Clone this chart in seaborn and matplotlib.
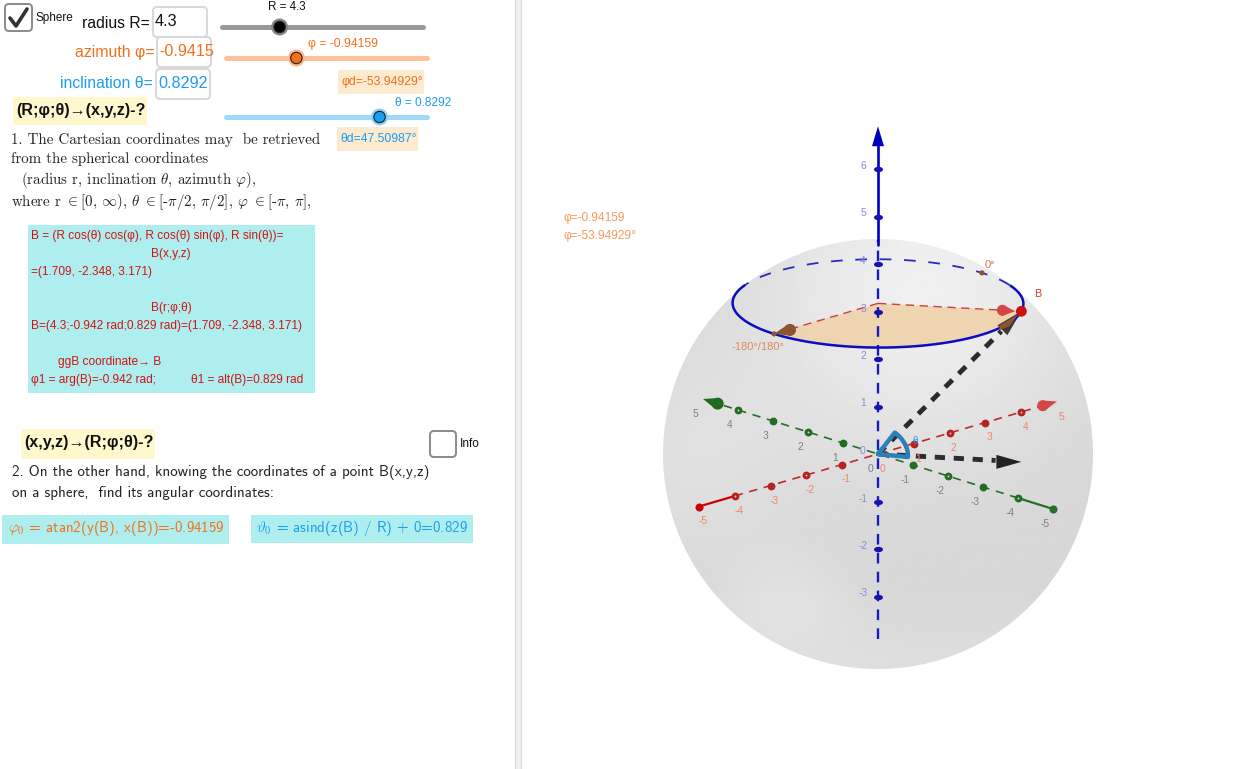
import numpy as np
import seaborn as sns
import matplotlib.pyplot as plt
from matplotlib.patches import Circle, FancyBboxPatch, Polygon, Rectangle
from matplotlib.path import Path
from matplotlib.transforms import Affine2D

# values of the construction
R = 4.3
phi = -0.94159
theta = 0.8292
phi_deg = -53.94929
theta_deg = 47.50987
axis_ticks = [-5, -4, -3, -2, -1, 1, 2, 3, 4]
ring_ticks = [-4, -2, 2, 4]
axis_labels = [-5, -4, -3, -2, -1, 0, 1, 2, 3, 4, 5]
z_ticks = [-3, -2, -1, 1, 2, 3, 4, 5, 6]
z_labels = [-3, -2, -1, 0, 1, 2, 3, 4, 5, 6]

formula_lines = [
    "B = (R cos(θ) cos(φ), R cos(θ) sin(φ), R sin(θ))=",
    "B(x,y,z)",
    "=(1.709, -2.348, 3.171)",
    "B(r;φ;θ)",
    "B=(4.3;-0.942 rad;0.829 rad)=(1.709, -2.348, 3.171)",
    "ggB coordinate→ B",
    "φ1 = arg(B)=-0.942 rad;",
    "θ1 = alt(B)=0.829 rad",
]

ORANGE = "#f2701d"
BLUE = "#1b9df0"
TEAL = "#afeeee"
CREAM = "#fdebd0"
YELLOW = "#fff8cc"
RED = "#d01414"
GREEN = "#2a6e2a"

# screen position of the origin and of the unit vectors
OX, OY = 878, 454
UX = (35.8, -10.5)
UY = (-35.0, -11.0)
UZ = (0.0, -47.5)


def project(x, y, z):
    x, y, z = np.asarray(x, float), np.asarray(y, float), np.asarray(z, float)
    return (OX + x * UX[0] + y * UY[0] + z * UZ[0],
            OY + x * UX[1] + y * UY[1] + z * UZ[1])


def line(ax, xs, ys, color, lw, dashes=None, alpha=1.0, z=3):
    ls = (0, dashes) if dashes else "-"
    sns.lineplot(x=xs, y=ys, ax=ax, color=color, linewidth=lw, linestyle=ls, alpha=alpha,
                 sort=False, estimator=None, errorbar=None, legend=False, zorder=z)


def cone(ax, tip, base, width, color, z=5, round_base=True):
    tip, base = np.array(tip, float), np.array(base, float)
    d = tip - base
    n = np.array([-d[1], d[0]]) / np.hypot(*d) * width
    ax.add_patch(Polygon([tip, base + n, base - n], color=color, lw=0, zorder=z))
    if round_base:
        ax.add_patch(Circle(base, width, color=color, lw=0, zorder=z))


def widget_box(ax, x0, y0, x1, y1, edge="#d9d9d9", lw=1.5):
    ax.add_patch(FancyBboxPatch((x0 + 3, y0 + 3), x1 - x0 - 6, y1 - y0 - 6,
                                boxstyle="round,pad=3,rounding_size=4",
                                fc="white", ec=edge, lw=lw, zorder=2))


def fill_box(ax, x0, y0, x1, y1, color):
    ax.add_patch(Rectangle((x0, y0), x1 - x0, y1 - y0, fc=color, ec="none", zorder=1))


def slider(ax, x0, x1, y, frac, track, knob, halo):
    line(ax, [x0, x1], [y, y], track, 3.6)
    xk = x0 + (x1 - x0) * frac
    ax.add_patch(Circle((xk, y), 8.5, fc=halo, ec="none", zorder=4))
    ax.add_patch(Circle((xk, y), 5.7, fc=knob, ec="#222222", lw=0.8, zorder=5))


def left_panel(ax):
    sans = "Liberation Sans"
    # check boxes
    widget_box(ax, 5, 4, 32, 31, edge="#8a8a8a", lw=1.4)
    line(ax, [10, 16, 27], [18, 26, 9], "#333333", 2.6, z=4)
    widget_box(ax, 430, 431, 456, 457, edge="#8a8a8a", lw=1.4)
    ax.text(36, 18, "Sphere", fontsize=8.5, family=sans, va="center", color="#111111")
    ax.text(460, 444, "Info", fontsize=8.6, family=sans, va="center", color="#111111")

    # input rows
    widget_box(ax, 153, 7, 207, 37)
    widget_box(ax, 157, 37, 211, 67)
    widget_box(ax, 156, 69, 210, 99)
    ax.text(82, 23, "radius R=", fontsize=11.3, family=sans, va="center", color="#111111")
    ax.text(155, 22, "4.3", fontsize=11.7, family=sans, va="center", color="#111111", zorder=6)
    ax.text(75, 52, "azimuth φ=", fontsize=11.4, family=sans, va="center", color=ORANGE)
    ax.text(159, 52, "-0.9415", fontsize=11.6, family=sans, va="center", color=ORANGE, zorder=6)
    ax.text(60, 84, "inclination θ=", fontsize=11.3, family=sans, va="center", color=BLUE)
    ax.text(158, 84, "0.8292", fontsize=11.6, family=sans, va="center", color=BLUE, zorder=6)

    # sliders
    slider(ax, 222, 423, 27, R / 15, "#999999", "black", "#888888")
    slider(ax, 226, 427, 58, (phi + np.pi) / (2 * np.pi), "#ffc19b", ORANGE, "#ffb58a")
    slider(ax, 226, 427, 117, (theta + np.pi / 2) / np.pi, "#a0d8fb", BLUE, "#8fd0fa")
    ax.text(287, 7, f"R = {R}", fontsize=8.4, family=sans, ha="center", va="center", color="#111111")
    ax.text(308, 43.5, f"φ = {phi}", fontsize=8.7, family=sans, va="center", color=ORANGE)
    ax.text(395, 103.5, f"θ = {theta}", fontsize=8.6, family=sans, va="center", color=BLUE)
    fill_box(ax, 338, 70, 424, 94, CREAM)
    fill_box(ax, 337, 127, 418, 151, CREAM)
    ax.text(341, 81.5, f"φd={phi_deg}°", fontsize=8.7, family=sans, va="center", color=ORANGE)
    ax.text(340, 138.5, f"θd={theta_deg}°", fontsize=8.7, family=sans, va="center", color=BLUE)

    # headings
    fill_box(ax, 13, 97, 147, 125, YELLOW)
    fill_box(ax, 21, 429, 155, 459, YELLOW)
    ax.text(16, 110, "(R;φ;θ)→(x,y,z)-?", fontsize=11.6, family=sans, weight="bold", va="center", color="#111111")
    ax.text(24, 443, "(x,y,z)→(R;φ;θ)-?", fontsize=11.6, family=sans, weight="bold", va="center", color="#111111")

    # serif paragraph
    serif = dict(family="cmr10", fontsize=10.8, va="center", color="#222222")
    ax.text(11, 139.5, "1. The Cartesian coordinates may  be retrieved", **serif)
    ax.text(11, 158.5, "from the spherical coordinates", **serif)
    ax.text(21, 179.5, r"(radius r, inclination $\theta$, azimuth $\varphi$),", **serif)
    ax.text(11, 201.5, r"where r $\in$[0, $\infty$), $\theta$ $\in$[-$\pi$/2, $\pi$/2], $\varphi$ $\in$[-$\pi$, $\pi$],", **serif)

    # red formula box
    fill_box(ax, 28, 225, 315, 393, TEAL)
    xs = [31, 151, 31, 151, 31, 58, 31, 191]
    ys = [236, 254, 272, 308, 326, 362, 380, 380]
    for s, x, y in zip(formula_lines, xs, ys):
        ax.text(x, y, s, fontsize=8.6, family=sans, va="center", color=RED)

    # second paragraph
    ss = dict(family="cmss10", fontsize=10.85, va="center", color="#222222")
    ax.text(12, 472, "2. On the other hand, knowing the coordinates of a point B(x,y,z)", **ss)
    ax.text(12, 493, "on a sphere,  find its angular coordinates:", **ss)

    fill_box(ax, 2, 515, 229, 544, TEAL)
    fill_box(ax, 251, 515, 473, 543, TEAL)
    ax.text(8, 528, r"$\varphi_0$ = atan2(y(B), x(B))=-0.94159", family="cmss10", fontsize=10.75, va="center", color=ORANGE)
    ax.text(256, 528, r"$\vartheta_0$ = asind(z(B) / R) + 0=0.829", family="cmss10", fontsize=10.8, va="center", color=BLUE)


def sphere(ax):
    # soft grey shading with two highlights, clipped to the disc
    yy, xx = np.mgrid[-1:1:300j, -1:1:300j]
    shade = 0.84 + 0.10 * np.exp(-((xx - 0.2) ** 2 + (yy + 0.75) ** 2) / 0.55)
    shade = shade + 0.035 * np.exp(-((xx + 0.42) ** 2 / 0.09 + (yy - 0.68) ** 2 / 0.05))
    shade = shade + 0.035 * np.exp(-((xx + 0.9) ** 2 + yy ** 2) / 0.3)
    shade = shade + 0.03 * np.clip(yy - 0.6, 0, 1) / 0.4
    im = ax.imshow(shade, cmap="gray", vmin=0, vmax=1, extent=(OX - 215, OX + 215, OY + 215, OY - 215),
                   zorder=0, aspect="auto")
    im.set_clip_path(Circle((OX, OY), 215, transform=ax.transData))


def view_3d(ax):
    sans = "Liberation Sans"
    sphere(ax)

    # latitude circle through B and the shaded sector
    r = R * np.cos(theta)
    h = R * np.sin(theta)
    t = np.linspace(0, 2 * np.pi, 361)
    ex, ey = project(r * np.cos(t), r * np.sin(t), h * np.ones_like(t))
    front = ey > 285
    i0 = np.argmax(front)
    ex, ey, front = np.roll(ex, -i0), np.roll(ey, -i0), np.roll(front, -i0)
    n_front = front.sum()
    a = np.linspace(-np.pi, phi, 80)
    sx, sy = project(r * np.cos(a), r * np.sin(a), h * np.ones(80))
    cx, cy = project(0, 0, h)
    ax.add_patch(Polygon(np.column_stack([np.r_[cx, sx], np.r_[cy, sy]]), fc="#efd2aa", ec="none", alpha=0.9, zorder=2))
    ax.plot(ex[:n_front], ey[:n_front], color="#0b0bc4", lw=1.8, zorder=6)
    line(ax, ex[n_front:], ey[n_front:], "#2a2ac4", 1.3, dashes=(6.5, 7), z=3)

    bx, by = project(r * np.cos(phi), r * np.sin(phi), h)
    lx, ly = project(-r, 0, h)
    zx, zy = project(r, 0, h)
    line(ax, [cx, bx], [cy, by], "#c94040", 1.0, dashes=(6, 4), z=4)
    line(ax, [cx, lx], [cy, ly], "#c94040", 1.0, dashes=(6, 4), z=4)

    # axes
    xax, yax = project([-4, 4.6], [0, 0], [0, 0])
    line(ax, xax, yax, "#c02a2a", 1.2, dashes=(5, 4))
    xax, yax = project([-5, -4], [0, 0], [0, 0])
    line(ax, xax, yax, "#cc0000", 1.6)
    xax, yax = project([0, 0], [-4, 4.6], [0, 0])
    line(ax, xax, yax, GREEN, 1.2, dashes=(5, 4))
    xax, yax = project([0, 0], [-5, -4], [0, 0])
    line(ax, xax, yax, GREEN, 1.6)
    xax, yax = project([0, 0], [0, 0], [-3.9, 4.5])
    line(ax, xax, yax, "#1a1ac0", 1.7, dashes=(4.5, 3.5))
    xax, yax = project([0, 0], [0, 0], [4.4, 6.6])
    line(ax, xax, yax, "#0000c0", 1.9)

    # tick dots
    zeros = np.zeros(len(axis_ticks))
    tx, ty = project(axis_ticks, zeros, zeros)
    sns.scatterplot(x=tx, y=ty, ax=ax, color="#b52222", s=32, linewidth=0, zorder=5)
    gx, gy = project(zeros, axis_ticks, zeros)
    sns.scatterplot(x=gx, y=gy, ax=ax, color="#246b24", s=32, linewidth=0, zorder=5)
    zeros = np.zeros(len(ring_ticks))
    tx, ty = project(ring_ticks, zeros, zeros)
    sns.scatterplot(x=tx, y=ty, ax=ax, color="#e8c8c8", s=1.8, linewidth=0, zorder=5)
    gx, gy = project(zeros, ring_ticks, zeros)
    sns.scatterplot(x=gx, y=gy, ax=ax, color="#c8e0c8", s=1.8, linewidth=0, zorder=5)
    end_x, end_y = project([-5], [0], [0])
    sns.scatterplot(x=end_x, y=end_y, ax=ax, color="#cc0000", s=30, linewidth=0, zorder=5)
    end_x, end_y = project([0], [-5], [0])
    sns.scatterplot(x=end_x, y=end_y, ax=ax, color=GREEN, s=30, linewidth=0, zorder=5)
    flat = Path.unit_circle().transformed(Affine2D().scale(1, 0.6))
    qx, qy = project(np.zeros(len(z_ticks)), np.zeros(len(z_ticks)), z_ticks)
    sns.scatterplot(x=qx, y=qy, ax=ax, color="#1414b0", s=42, marker=flat, linewidth=0, zorder=5)

    # arrow heads of the axes
    cone(ax, project(5, 0, 0), project(4.6, 0, 0), 5.5, "#d64545")
    cone(ax, project(0, 5, 0), project(0, 4.58, 0), 6, "#1f6b1f")
    cone(ax, project(0, 0, 6.9), project(0, 0, 6.48), 6, "#0000c0", round_base=False)

    # axis numbers
    for v in axis_labels:
        x, y = project(v, 0, 0)
        ax.text(x + 4, y + 15, str(v), fontsize=7.4, family=sans, ha="center", va="center", color="#ee8866", zorder=6)
        x, y = project(0, v, 0)
        ax.text(x - 8, y + 15, str(v), fontsize=7.4, family=sans, ha="center", va="center", color="#808080", zorder=6)
    for v in z_labels:
        x, y = project(0, 0, v)
        ax.text(x - 15, y - 3, str(v), fontsize=7.4, family=sans, ha="center", va="center", color="#8a8ae0", zorder=6)

    # vector to B and its shadow in the xy plane
    vx, vy = project(r * np.cos(phi), r * np.sin(phi), h)
    line(ax, [OX, OX + (vx - OX) * 0.86], [OY, OY + (vy - OY) * 0.86], "#2b2b2b", 3.5, dashes=(2.1, 1.8), z=4)
    cone(ax, (vx, vy), (vx - 19, vy + 19), 7, "#3a3a3a", z=5, round_base=False)
    px, py = project(r * np.cos(phi), r * np.sin(phi), 0)
    line(ax, [OX, OX + (px - OX) * 0.82], [OY, OY + (py - OY) * 0.82], "#2b2b2b", 3.5, dashes=(2.1, 1.8), z=4)
    ax.add_patch(Polygon([(px, py), (px - 25, py - 7), (px - 25, py + 7)], color="#222222", lw=0, zorder=5))

    # inclination angle marker
    a = np.linspace(0, theta + 0.12, 30)
    wx = OX + 30 * np.cos(a - 0.05) * (1 - 0.15 * np.sin(a) ** 2)
    wy = OY + 3 - 30 * np.sin(a)
    line(ax, np.r_[OX, wx, OX], np.r_[OY, wy, OY], "#2a80b8", 3.2, z=6)
    ax.text(915, 441, "θ", fontsize=7, family=sans, ha="center", va="center", color=BLUE, zorder=7)

    # points and the cones at the ends of the sector sides
    cone(ax, (bx - 6, by), (bx - 19, by - 1), 5.5, "#d64545", z=6)
    cone(ax, (lx, ly), (lx + 16, ly - 4), 6, "#8a5530", z=6)
    ax.add_patch(Polygon([(bx - 3, by + 3), (bx - 22, by + 14), (bx - 22, by + 19), (bx - 12, by + 15)], color="#8a5530", lw=0, zorder=6))
    ax.add_patch(Circle((lx, ly), 2.6, color="#8a5530", lw=0, zorder=7))
    ax.add_patch(Circle((zx, zy), 2.6, color="#8a5530", lw=0, zorder=7))
    ax.add_patch(Circle((bx, by), 5.4, color="#cc1111", lw=0, zorder=7))

    ax.text(1038, 294, "B", fontsize=7.8, family=sans, ha="center", va="center", color="#e03a2a", zorder=7)
    ax.text(990, 265, "0°", fontsize=8, family=sans, ha="center", va="center", color="#d9734a", zorder=7)
    ax.text(732, 347, "-180°/180°", fontsize=8, family=sans, va="center", color="#e08a60", zorder=7)
    ax.text(564, 218, f"φ={phi}", fontsize=8.6, family=sans, va="center", color="#f59a5e")
    ax.text(564, 236, f"φ={phi_deg}°", fontsize=8.6, family=sans, va="center", color="#f59a5e")


def plot():
    sns.set_theme(style="white")
    plt.rcParams["mathtext.fontset"] = "cm"
    plt.rcParams["axes.unicode_minus"] = False

    fig = plt.figure(figsize=(12.36, 7.69), dpi=100)
    ax = fig.add_axes([0, 0, 1, 1])

    # panel divider
    ax.add_patch(Rectangle((514.5, 0), 6.5, 769, fc="#f1f1f1", ec="none", zorder=0))
    line(ax, [515, 515], [0, 769], "#dcdcdc", 1.0)
    line(ax, [521, 521], [0, 769], "#dcdcdc", 1.0)

    left_panel(ax)
    view_3d(ax)

    ax.set_xlim(0, 1236)
    ax.set_ylim(769, 0)
    ax.axis("off")
    fig.savefig("out.png", dpi=100)


if __name__ == '__main__':
    plot()
